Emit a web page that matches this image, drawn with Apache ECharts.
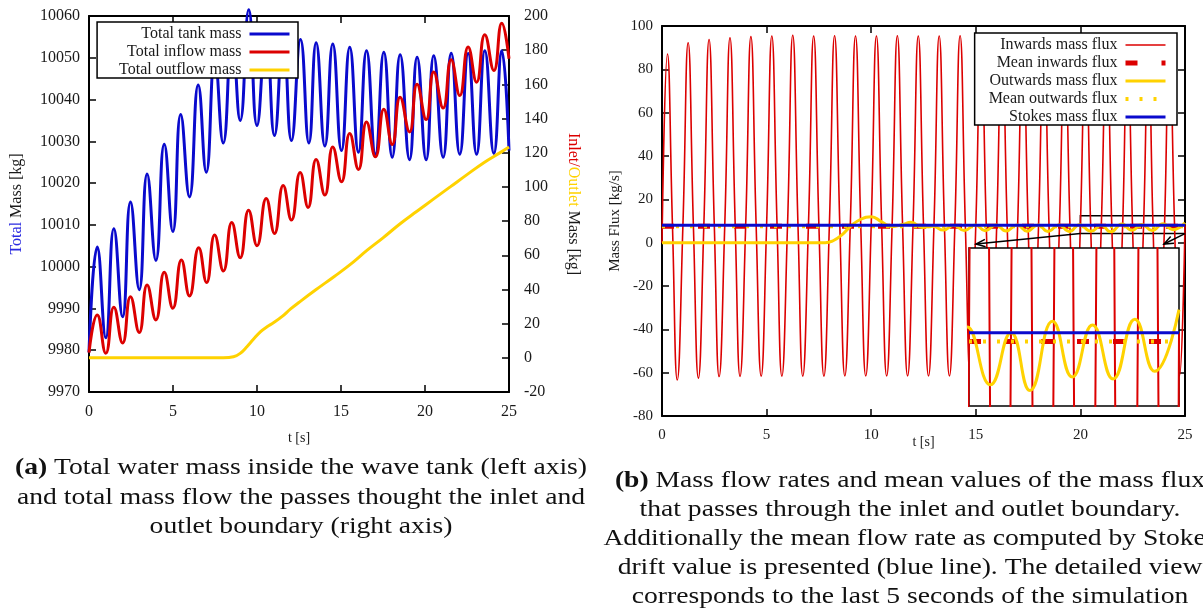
<!DOCTYPE html>
<html>
<head>
<meta charset="utf-8">
<script src="https://cdn.jsdelivr.net/npm/echarts@6/dist/echarts.min.js"></script>
<style>
  html, body { margin: 0; padding: 0; background: #fff; }
  #chart { width: 1203px; height: 610px; }
</style>
</head>
<body>
<div id="chart"></div>
<script>
// ---- (a) total masses: [t (s), mass (kg)] ----
const tankMass = [
  [0, 9979.5], [0.49, 10004.7], [1.0, 9983.0], [1.48, 10009.1], [2.0, 9988.0], [2.47, 10015.5],
  [2.99, 9994.5], [3.46, 10022.2], [3.98, 10001.5], [4.48, 10029.3], [4.99, 10008.4], [5.46, 10036.4],
  [5.98, 10016.7], [6.5, 10043.5], [6.98, 10022.6], [7.49, 10050.0], [7.99, 10029.6], [8.52, 10055.5],
  [9.0, 10035.0], [9.51, 10061.5], [10.0, 10033.8], [10.54, 10056.5], [11.04, 10031.4], [11.56, 10055.5],
  [12.05, 10030.2], [12.59, 10054.4], [13.09, 10029.6], [13.52, 10053.6], [14.04, 10028.9], [14.51, 10053.3],
  [15.03, 10027.8], [15.52, 10052.5], [16.04, 10027.4], [16.52, 10051.7], [17.05, 10026.9], [17.55, 10051.3],
  [18.05, 10026.2], [18.52, 10050.7], [19.08, 10025.6], [19.53, 10050.1], [20.07, 10025.6], [20.52, 10050.5],
  [21.08, 10026.2], [21.56, 10051.1], [22.07, 10026.9], [22.57, 10051.0], [23.07, 10026.9], [23.56, 10051.7],
  [24.1, 10027.1], [24.57, 10051.7], [25.0, 10027.8]
];
const inflowMass = [
  [0, 3.0], [0.49, 25.1], [1.0, 2.7], [1.48, 29.6], [2.0, 8.6], [2.47, 35.8], [2.99, 14.8], [3.46, 42.6],
  [3.98, 22.2], [4.48, 50.0], [4.99, 29.0], [5.5, 57.2], [5.98, 36.2], [6.53, 64.4], [7.0, 44.0], [7.48, 71.8],
  [8.0, 50.8], [8.5, 79.2], [9.0, 58.6], [9.5, 86.4], [10.0, 65.6], [10.55, 93.2], [11.04, 72.8], [11.56, 100.8],
  [12.05, 80.6], [12.57, 108.5], [13.04, 88.0], [13.52, 116.0], [14.04, 95.2], [14.51, 123.4], [15.03, 103.0],
  [15.52, 131.2], [16.04, 110.2], [16.52, 138.0], [17.05, 117.6], [17.55, 145.4], [18.05, 124.8], [18.52, 152.5],
  [19.08, 132.2], [19.53, 160.0], [20.07, 139.4], [20.52, 167.2], [21.08, 146.1], [21.56, 174.4], [22.07, 153.5],
  [22.57, 181.8], [23.07, 161.3], [23.56, 189.0], [24.1, 168.1], [24.57, 195.8], [25.0, 175.0]
];
const outflowMass = [
  [0, 0], [8.0, 0], [8.6, 0.6], [9.0, 2.6], [9.4, 6.5], [9.8, 11.0], [10.2, 15.2], [10.6, 18.2], [11.0, 20.6],
  [11.5, 24.2], [12.0, 28.6], [12.6, 33.2], [13.5, 39.8], [14.6, 47.6], [15.5, 54.2], [16.56, 63.0], [17.5, 70.2],
  [18.54, 78.6], [19.5, 85.6], [20.52, 93.0], [21.5, 100.0], [22.5, 107.2], [23.5, 114.2], [24.5, 120.2], [25.0, 123.3]
];

// ---- (b) mass fluxes: [t (s), flux (kg/s)] ----
const fluxIn = [
  [0, 0], [0.26, 87.1], [0.5, 8], [0.73, -63.4],
  [1.0, 8], [1.25, 92.3], [1.5, 8], [1.74, -62.5],
  [2.0, 8], [2.25, 93.8], [2.5, 8], [2.73, -61.8],
  [3.0, 8], [3.25, 94.6], [3.5, 8], [3.73, -61.7],
  [4.0, 8], [4.25, 95.1], [4.5, 8], [4.74, -61.6],
  [5.0, 8], [5.25, 95.4], [5.5, 8], [5.73, -61.6],
  [6.0, 8], [6.25, 95.7], [6.5, 8], [6.73, -61.6],
  [7.0, 8], [7.25, 95.4], [7.5, 8], [7.74, -61.6],
  [8.0, 8], [8.25, 95.5], [8.5, 8], [8.74, -61.5],
  [9.0, 8], [9.25, 95.4], [9.5, 8], [9.74, -61.5],
  [10.0, 8], [10.25, 95.4], [10.5, 8], [10.74, -61.5],
  [11.0, 8], [11.25, 95.5], [11.5, 8], [11.74, -61.5],
  [12.0, 8], [12.25, 95.4], [12.5, 8], [12.74, -61.5],
  [13.0, 8], [13.25, 95.4], [13.5, 8], [13.74, -61.5],
  [14.0, 8], [14.25, 95.5], [14.5, 8], [14.74, -61.5],
  [15.0, 8], [15.25, 95.4], [15.5, 8], [15.74, -61.5],
  [16.0, 8], [16.25, 95.4], [16.5, 8], [16.74, -61.5],
  [17.0, 8], [17.25, 95.5], [17.5, 8], [17.74, -61.5],
  [18.0, 8], [18.25, 95.4], [18.5, 8], [18.74, -61.5],
  [19.0, 8], [19.25, 95.4], [19.5, 8], [19.74, -61.5],
  [20.0, 8], [20.25, 95.4], [20.49, 8], [20.74, -61.5],
  [21.0, 8], [21.25, 95.4], [21.5, 8], [21.74, -61.5],
  [22.02, 8], [22.25, 95.4], [22.49, 8], [22.74, -61.5],
  [23.02, 8], [23.25, 95.4], [23.47, 8], [23.74, -61.5],
  [24.02, 8], [24.25, 95.4], [24.5, 8], [24.74, -61.5],
  [25.0, 8]
];
const fluxOut = [
  [0, 0], [7.8, 0], [8.2, 1.0], [8.6, 3.6], [9.0, 7.4], [9.5, 10.8], [10.0, 12.0], [10.5, 9.6], [11.0, 7.4],
  [11.5, 8.4], [11.9, 9.4], [12.45, 7.0], [12.95, 7.6], [13.45, 5.8], [13.95, 8.0], [14.45, 5.6], [14.97, 8.2],
  [15.45, 5.5], [15.97, 8.2], [16.45, 5.4], [16.97, 8.1], [17.45, 5.3], [17.97, 8.2], [18.45, 5.2], [18.97, 8.2],
  [19.47, 5.2], [19.96, 8.3], [20.51, 5.3], [21.0, 8.0], [21.45, 5.0], [21.99, 8.6], [22.46, 5.7], [22.94, 8.4],
  [23.43, 5.6], [23.95, 8.7], [24.42, 6.0], [25.0, 9.2]
];
const meanInFlux = 7.55;
const meanOutFlux = 7.55;
const stokesFlux = 8.0;

// detail window: last 5 seconds around the mean values
const zoomT = [20, 25];
const zoomFlux = [4.2, 12.4];

// axis ranges [min, max, step]
const tRange = [0, 25, 5];
const totalMassRange = [9970, 10060, 10];
const boundaryMassRange = [-20, 200, 20];
const fluxRange = [-80, 100, 20];

const captionA = [
  '{b|(a)} Total water mass inside the wave tank (left axis)',
  'and total mass flow the passes thought the inlet and',
  'outlet boundary (right axis)'
];
const captionB = [
  '{b|(b)} Mass flow rates and mean values of the mass flux',
  'that passes through the inlet and outlet boundary.',
  'Additionally the mean flow rate as computed by Stokes',
  'drift value is presented (blue line). The detailed view',
  'corresponds to the last 5 seconds of the simulation'
];

const BLUE = '#0a0acd', RED = '#dc0000', YELLOW = '#ffd200', INK = '#1a1a1a';
const FONT = '"Liberation Serif", "DejaVu Serif", serif';

const chart = echarts.init(document.getElementById('chart'), null, { renderer: 'canvas' });

const label = (size, margin) => ({ color: INK, fontFamily: FONT, fontSize: size, margin, formatter: v => String(v) });

function axisBase(range, extra) {
  return Object.assign({
    type: 'value', min: range[0], max: range[1], interval: range[2],
    axisLine: { show: true, onZero: false, lineStyle: { color: '#000', width: 2 } },
    axisTick: { show: true, inside: true, length: 7, lineStyle: { color: '#000', width: 1.5 } },
    axisLabel: label(15, 9),
    splitLine: { show: false },
    nameMoveOverlap: false
  }, extra);
}
const hiddenLabels = { show: false };

const legendBase = {
  orient: 'vertical', align: 'right', itemWidth: 40, itemHeight: 14, itemGap: 2,
  backgroundColor: '#fff', borderColor: '#000', borderWidth: 1.5, borderRadius: 0,
  itemStyle: { opacity: 0 },
  lineStyle: { width: 'inherit' },
  textStyle: { fontFamily: FONT, fontSize: 16, color: INK, lineHeight: 15, padding: [0, 3, 0, 0] },
  selectedMode: false
};

const line = (name, data, xi, yi, color, width, extra) => Object.assign({
  name, type: 'line', data, xAxisIndex: xi, yAxisIndex: yi,
  symbol: 'none', showSymbol: false, animation: false,
  lineStyle: { color, width }, itemStyle: { color }
}, extra);

const inDash = { type: [12, 24] };
const outDot = { type: [3, 11] };

const option = {
  animation: false,
  backgroundColor: '#fff',
  grid: [
    { left: 89, top: 16, width: 420, height: 376 },
    { left: 662, top: 26, width: 523, height: 390 },
    { left: 969, top: 248, width: 210, height: 158, show: true, backgroundColor: '#fff',
      borderColor: '#000', borderWidth: 1.5, z: 10 }
  ],
  xAxis: [
    axisBase(tRange, { gridIndex: 0, position: 'bottom', name: 't [s]', nameLocation: 'middle', nameGap: 39,
      nameTextStyle: { fontFamily: FONT, fontSize: 14, color: INK }, axisLabel: label(16, 12) }),
    axisBase(tRange, { gridIndex: 0, position: 'top', axisLabel: hiddenLabels }),
    axisBase(tRange, { gridIndex: 1, position: 'bottom', name: 't [s]', nameLocation: 'middle', nameGap: 19,
      nameTextStyle: { fontFamily: FONT, fontSize: 14, color: INK }, axisLabel: label(15, 12) }),
    axisBase(tRange, { gridIndex: 1, position: 'top', axisLabel: hiddenLabels }),
    { type: 'value', gridIndex: 2, min: zoomT[0], max: zoomT[1], show: false }
  ],
  yAxis: [
    axisBase(totalMassRange, { gridIndex: 0, position: 'left', name: '{b|Total} Mass [kg]',
      nameLocation: 'middle', nameGap: 64,
      nameTextStyle: { fontFamily: FONT, fontSize: 16, color: INK,
        rich: { b: { color: '#2a2ae0', fontFamily: FONT, fontSize: 16 } } },
      axisLabel: label(16, 9) }),
    axisBase(boundaryMassRange, { gridIndex: 0, position: 'right', name: '{r|Inlet/}{y|Outlet} Mass [kg]',
      nameLocation: 'middle', nameGap: 56, nameRotate: -90,
      nameTextStyle: { fontFamily: FONT, fontSize: 16, color: INK,
        rich: { r: { color: RED, fontFamily: FONT, fontSize: 16 }, y: { color: YELLOW, fontFamily: FONT, fontSize: 16 } } },
      axisLabel: label(16, 15) }),
    axisBase(fluxRange, { gridIndex: 1, position: 'left', name: 'Mass Flux [kg/s]',
      nameLocation: 'middle', nameGap: 39,
      nameTextStyle: { fontFamily: FONT, fontSize: 15, color: INK },
      axisLabel: label(15, 9) }),
    axisBase(fluxRange, { gridIndex: 1, position: 'right', axisLabel: hiddenLabels }),
    { type: 'value', gridIndex: 2, min: zoomFlux[0], max: zoomFlux[1], show: false }
  ],
  legend: [
    Object.assign({}, legendBase, { right: 905, top: 22, padding: [4, 7, 0, 22],
      data: ['Total tank mass', 'Total inflow mass', 'Total outflow mass'] }),
    Object.assign({}, legendBase, { right: 26, top: 33, padding: [4, 9, 0, 14],
      data: ['Inwards mass flux', 'Mean inwards flux', 'Outwards mass flux', 'Mean outwards flux', 'Stokes mass flux'] })
  ],
  series: [
    line('Total tank mass', tankMass, 0, 0, BLUE, 3, { smooth: 0.5, clip: false }),
    line('Total inflow mass', inflowMass, 0, 1, RED, 3, { smooth: 0.5 }),
    line('Total outflow mass', outflowMass, 0, 1, YELLOW, 3, { smooth: 0.4 }),

    line('Inwards mass flux', fluxIn, 2, 2, RED, 1.6, { smooth: 0.5 }),
    line('Mean inwards flux', [[tRange[0], meanInFlux], [tRange[1], meanInFlux]], 2, 2, RED, 5,
      { lineStyle: Object.assign({ color: RED, width: 5 }, inDash) }),
    line('Outwards mass flux', fluxOut, 2, 2, YELLOW, 3, { smooth: 0.5 }),
    line('Mean outwards flux', [[tRange[0], meanOutFlux], [tRange[1], meanOutFlux]], 2, 2, YELLOW, 4,
      { lineStyle: Object.assign({ color: YELLOW, width: 4 }, outDot) }),
    line('Stokes mass flux', [[tRange[0], stokesFlux], [tRange[1], stokesFlux]], 2, 2, BLUE, 3, {
      markArea: { silent: true,
        itemStyle: { color: 'rgba(0,0,0,0)', borderColor: '#000', borderWidth: 1.5 },
        data: [[{ coord: [zoomT[0], zoomFlux[0]] }, { coord: [zoomT[1], zoomFlux[1]] }]] }
    }),

    // detail view
    line('Inwards mass flux', fluxIn, 4, 4, RED, 2, { smooth: 0.5, z: 12 }),
    line('Mean inwards flux', [[zoomT[0], meanInFlux], [zoomT[1], meanInFlux]], 4, 4, RED, 5,
      { z: 12, lineStyle: Object.assign({ color: RED, width: 5 }, inDash) }),
    line('Outwards mass flux', fluxOut, 4, 4, YELLOW, 3, { smooth: 0.5, z: 12 }),
    line('Mean outwards flux', [[zoomT[0], meanOutFlux], [zoomT[1], meanOutFlux]], 4, 4, YELLOW, 4,
      { z: 12, lineStyle: Object.assign({ color: YELLOW, width: 4 }, outDot) }),
    line('Stokes mass flux', [[zoomT[0], stokesFlux], [zoomT[1], stokesFlux]], 4, 4, BLUE, 3, { z: 12 })
  ]
};

chart.setOption(option);

// arrows from the marked window to the detail view
function arrow(p, q) {
  const ang = Math.atan2(q[1] - p[1], q[0] - p[0]);
  const L = 10, w = 0.38;
  const a = [q[0] - L * Math.cos(ang - w), q[1] - L * Math.sin(ang - w)];
  const b = [q[0] - L * Math.cos(ang + w), q[1] - L * Math.sin(ang + w)];
  return [
    { type: 'line', z: 30, shape: { x1: p[0], y1: p[1], x2: q[0], y2: q[1] },
      style: { stroke: '#000', lineWidth: 1.5 } },
    { type: 'polyline', z: 30, shape: { points: [a, q, b] },
      style: { stroke: '#000', lineWidth: 1.5, fill: null } }
  ];
}
const srcL = chart.convertToPixel({ xAxisIndex: 2, yAxisIndex: 2 }, [zoomT[0], zoomFlux[0]]);
const srcR = chart.convertToPixel({ xAxisIndex: 2, yAxisIndex: 2 }, [zoomT[1], zoomFlux[0]]);
const dstL = chart.convertToPixel({ xAxisIndex: 4, yAxisIndex: 4 }, [zoomT[0], zoomFlux[1]]);
const dstR = chart.convertToPixel({ xAxisIndex: 4, yAxisIndex: 4 }, [zoomT[1], zoomFlux[1]]);

// captions below each panel (a slightly widened serif to suit the typeset look)
function captionLines(lines, cx, y0, step) {
  return lines.map((text, i) => ({
    type: 'text', z: 40, x: cx, y: y0 + i * step, scaleX: 1.15,
    style: {
      text, fontFamily: FONT, fontSize: 24, fill: '#111', align: 'center', verticalAlign: 'middle',
      rich: { b: { fontFamily: FONT, fontSize: 24, fontWeight: 'bold', fill: '#111' } }
    }
  }));
}

chart.setOption({
  graphic: [
    ...arrow(srcL, [dstL[0] + 7, dstL[1] - 4]),
    ...arrow(srcR, [dstR[0] - 15, dstR[1] - 4]),
    ...captionLines(captionA, 301, 468, 29.5),
    ...captionLines(captionB, 910, 481, 29)
  ]
});
</script>
</body>
</html>
